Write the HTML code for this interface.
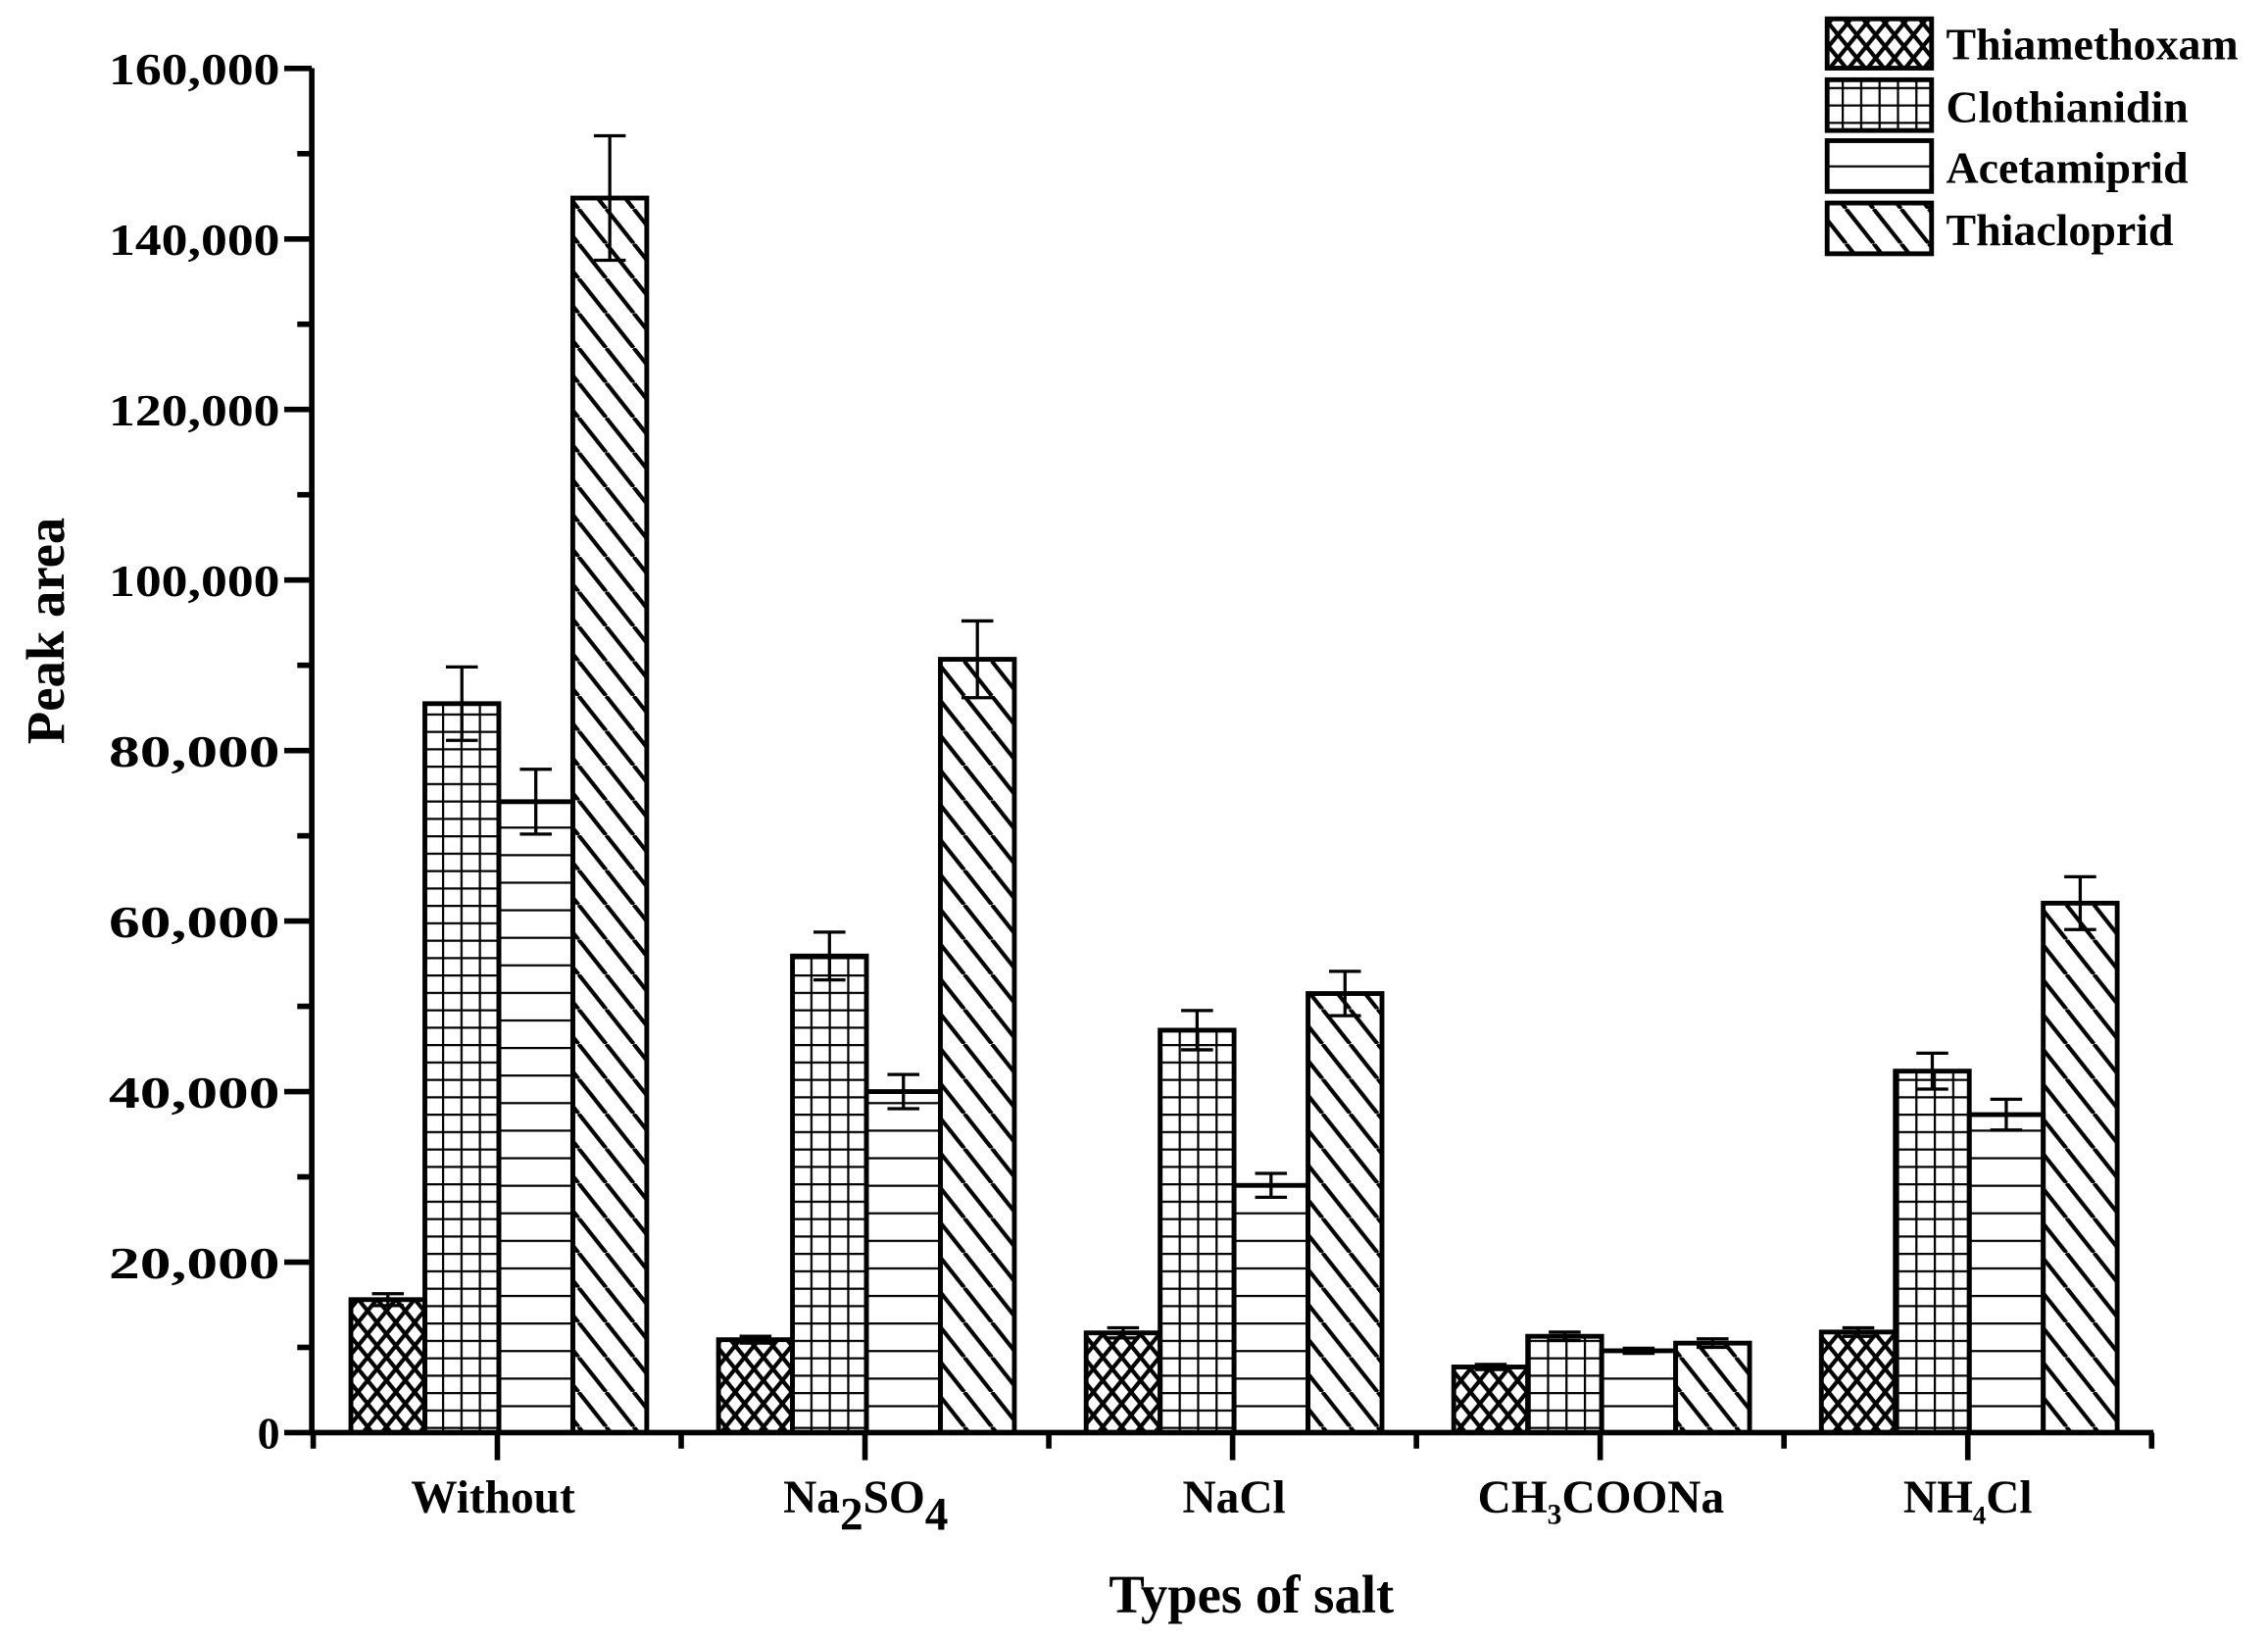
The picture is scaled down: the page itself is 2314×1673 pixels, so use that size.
<!DOCTYPE html>
<html><head><style>html,body{margin:0;padding:0;background:#fff}svg{display:block}</style></head>
<body>
<svg width="2314" height="1673" viewBox="0 0 1564 1131" preserveAspectRatio="none" xmlns="http://www.w3.org/2000/svg" font-family="'Liberation Serif',serif" font-weight="bold">
<defs>
<pattern id="p0" patternUnits="userSpaceOnUse" width="13" height="16">
<path d="M0,0 L13,16 M13,0 L0,16" stroke="#000" stroke-width="2.8"/>
</pattern>
<pattern id="p1" patternUnits="userSpaceOnUse" width="12.7" height="12">
<path d="M0,0 H12.7 M0,0 V12" stroke="#000" stroke-width="3"/>
</pattern>
<pattern id="p2" patternUnits="userSpaceOnUse" width="20" height="19">
<path d="M0,0 H20" stroke="#000" stroke-width="3"/>
</pattern>
<pattern id="p3" patternUnits="userSpaceOnUse" width="19" height="24">
<path d="M0,0 L19,24 M-19,0 L0,24 M19,0 L38,24" stroke="#000" stroke-width="2.8"/>
</pattern>
</defs>
<rect width="1564" height="1131" fill="#fff"/>
<g id="bars" stroke="#000" stroke-width="3.3"></g>
<g stroke="#000" stroke-width="3.8" fill="none">
<path d="M215,47 V988 H1485"/>
</g>
<g id="ticks" stroke="#000" stroke-width="3.8"></g>
<g id="lbl" font-size="31" text-anchor="end"></g>
<g font-size="32" text-anchor="middle">
<text x="340" y="1043">Without</text>
<text x="597" y="1043">Na<tspan dy="12">2</tspan><tspan dy="-12">SO</tspan><tspan dy="12">4</tspan></text>
<text x="851" y="1043">NaCl</text>
<text x="1104" y="1043">CH<tspan dy="8" font-size="20">3</tspan><tspan dy="-8">COONa</tspan></text>
<text x="1357" y="1043">NH<tspan dy="8" font-size="18">4</tspan><tspan dy="-8">Cl</tspan></text>
<text x="863" y="1112" font-size="37">Types of salt</text>
<text transform="translate(44,435) rotate(-90)" font-size="37">Peak area</text>
</g>
<g stroke="#000" stroke-width="3.3">
<rect x="1260" y="13" width="72" height="34" fill="url(#p0)"/>
<rect x="1260" y="55" width="72" height="35" fill="url(#p1)"/>
<rect x="1260" y="97" width="72" height="35" fill="url(#p2)"/>
<rect x="1260" y="140" width="72" height="35" fill="url(#p3)"/>
</g>
<g font-size="31">
<text x="1342" y="41">Thiamethoxam</text>
<text x="1342" y="84">Clothianidin</text>
<text x="1342" y="126">Acetamiprid</text>
<text x="1342" y="169">Thiacloprid</text>
</g>
<script>
var ns="http://www.w3.org/2000/svg";
function el(p,t,a){var e=document.createElementNS(ns,t);for(var k in a)e.setAttribute(k,a[k]);p.appendChild(e);return e;}
function Y(v){return 988-v/20000*117.6;}
var data=[[[15600,700],[85500,4300],[74000,3800],[144800,7300]],
[[10900,400],[55900,2800],[40000,2000],[90700,4500]],
[[11700,600],[47200,2300],[29000,1400],[51500,2600]],
[[7700,300],[11300,500],[9600,300],[10500,500]],
[[11800,500],[42400,2100],[37300,1800],[62100,3100]]];
var bars=document.getElementById('bars');
for(var g=0;g<5;g++){var c=343+g*253.5;
for(var i=0;i<4;i++){var x=c-101+i*51,v=data[g][i][0],e=data[g][i][1],y=Y(v);
el(bars,'rect',{x:x,y:y,width:51,height:988-y,fill:'url(#p'+i+')'});
var m=x+25.5;
el(bars,'path',{d:'M'+m+','+Y(v+e)+'V'+Y(v-e)+'M'+(m-11)+','+Y(v+e)+'h22M'+(m-11)+','+Y(v-e)+'h22',fill:'none','stroke-width':'2.2'});}}
var t=document.getElementById('ticks'),l=document.getElementById('lbl');
for(var k=0;k<=16;k++){var y=988-k*58.8;el(t,'path',{d:'M'+(k%2?205:196)+','+y+'H215'});
if(k%2==0){var v=k/2*20000;var tx=el(l,'text',{x:193,y:y+11});if(v>0){tx.setAttribute('textLength','118');tx.setAttribute('lengthAdjust','spacingAndGlyphs');}tx.textContent=v==0?'0':v.toLocaleString('en-US');}}
for(var g=0;g<5;g++){var c=343+g*253.5;el(t,'path',{d:'M'+c+',988V1007'});el(t,'path',{d:'M'+(c+126.75)+',988V999'});}
el(t,'path',{d:'M216,988V999'});
</script>
</svg>
</body></html>
